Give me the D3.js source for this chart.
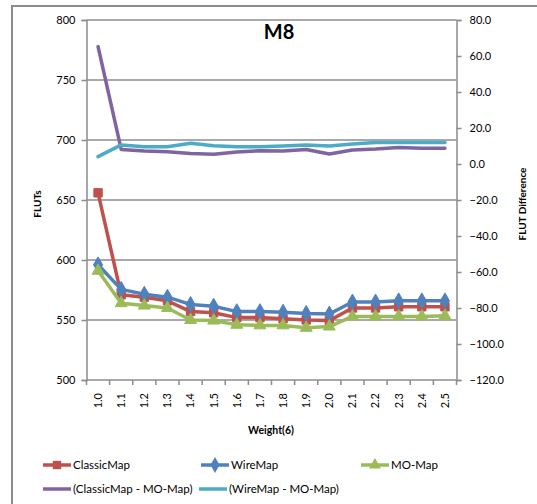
<!DOCTYPE html>
<html>
<head>
<meta charset="utf-8">
<script src="https://cdn.jsdelivr.net/npm/d3@7"></script>
<style>
  html, body { margin: 0; padding: 0; background: #fff; }
  svg { display: block; }
  text { font-family: Lato, "Open Sans", "Liberation Sans", sans-serif; fill: #000; }
</style>
</head>
<body>
<svg id="chart" width="537" height="504"></svg>
<script>
// Weight(6) categories
const weights = ["1.0","1.1","1.2","1.3","1.4","1.5","1.6","1.7","1.8","1.9","2.0","2.1","2.2","2.3","2.4","2.5"];

// FLUT counts (primary axis)
const classicMap = [656, 571, 569, 566, 557, 556, 552, 552, 551, 550, 549.5, 560, 560, 561, 561, 561];
const wireMap    = [596, 575.5, 571.5, 569, 563, 561.5, 557, 557, 556.5, 555.5, 555, 565, 565, 566, 566, 566];
const moMap      = [591, 564, 562, 560, 550, 549.5, 546, 545.5, 545.5, 543.5, 544.5, 553, 553, 553, 553, 553.5];

// FLUT differences (secondary axis)
const classicMinusMo = [65.2, 8.1, 7.2, 6.8, 5.9, 5.4, 6.7, 7.4, 7.2, 8.1, 5.6, 7.8, 8.3, 9.1, 8.7, 8.7];
const wireMinusMo    = [4.1, 10.6, 9.6, 9.6, 11.5, 10.2, 9.6, 9.6, 10.0, 10.6, 10.0, 11.1, 11.9, 11.9, 11.9, 11.9];

const leftTicks  = [500, 550, 600, 650, 700, 750, 800];
const rightTicks = [-120, -100, -80, -60, -40, -20, 0, 20, 40, 60, 80];

const svg = d3.select("#chart");
const plot = { left: 86.5, right: 456.5, top: 20, bottom: 380 };
const gridColor = "#8c8c8c";

const x = d3.scaleBand().domain(weights).range([plot.left, plot.right]);
const yL = d3.scaleLinear().domain([500, 800]).range([plot.bottom, plot.top]);
const yR = d3.scaleLinear().domain([-120, 80]).range([plot.bottom, plot.top]);
const cx = d => x(d) + x.bandwidth() / 2;

// outer chart frame
svg.append("rect")
  .attr("x", 12).attr("y", 6).attr("width", 540).attr("height", 520)
  .attr("fill", "none").attr("stroke", gridColor).attr("stroke-width", 2);

// horizontal gridlines
svg.append("g").selectAll("line").data(leftTicks.filter(t => t > 500)).join("line")
  .attr("x1", plot.left).attr("x2", plot.right)
  .attr("y1", d => yL(d)).attr("y2", d => yL(d))
  .attr("stroke", gridColor).attr("stroke-width", 1.5);

// left axis
const gL = svg.append("g").attr("transform", `translate(${plot.left},0)`)
  .call(d3.axisLeft(yL).tickValues(leftTicks).tickSize(5).tickPadding(6).tickFormat(d3.format("d")));
gL.select(".domain").attr("stroke", gridColor).attr("stroke-width", 1.5);
gL.selectAll(".tick line").attr("stroke", gridColor).attr("stroke-width", 1.5);
gL.selectAll(".tick text").style("font-size", "11px").style("font-family", "Lato, sans-serif");

// right axis
const gR = svg.append("g").attr("transform", `translate(${plot.right},0)`)
  .call(d3.axisRight(yR).tickValues(rightTicks).tickSize(5).tickPadding(8).tickFormat(d3.format(".1f")));
gR.select(".domain").attr("stroke", gridColor).attr("stroke-width", 1.5);
gR.selectAll(".tick line").attr("stroke", gridColor).attr("stroke-width", 1.5);
gR.selectAll(".tick text").style("font-size", "11px").style("font-family", "Lato, sans-serif");

// bottom axis
const gB = svg.append("g").attr("transform", `translate(0,${plot.bottom})`)
  .call(d3.axisBottom(x).tickSize(0).tickPadding(0));
gB.select(".domain").remove();
gB.selectAll(".tick text")
  .attr("transform", "translate(0,13) rotate(-90)")
  .attr("text-anchor", "end").attr("dy", "0.35em").attr("x", 0).attr("y", 0)
  .style("font-size", "11px").style("font-family", "Lato, sans-serif");
svg.append("line")
  .attr("x1", plot.left).attr("x2", plot.right)
  .attr("y1", plot.bottom).attr("y2", plot.bottom)
  .attr("stroke", gridColor).attr("stroke-width", 1.5);
svg.append("g").selectAll("line").data(d3.range(weights.length + 1)).join("line")
  .attr("x1", i => plot.left + i * x.bandwidth()).attr("x2", i => plot.left + i * x.bandwidth())
  .attr("y1", plot.bottom).attr("y2", plot.bottom + 5)
  .attr("stroke", gridColor).attr("stroke-width", 1.5);

// series
const series = [
  { name: "ClassicMap", values: classicMap, y: yL, color: "#C0504D", marker: "square" },
  { name: "WireMap", values: wireMap, y: yL, color: "#4F81BD", marker: "diamond" },
  { name: "MO-Map", values: moMap, y: yL, color: "#9BBB59", marker: "triangle" },
  { name: "(ClassicMap - MO-Map)", values: classicMinusMo, y: yR, color: "#8064A2", marker: null },
  { name: "(WireMap - MO-Map)", values: wireMinusMo, y: yR, color: "#4BACC6", marker: null }
];

const symbolFor = m => m === "square" ? d3.symbolSquare : m === "diamond" ? d3.symbolDiamond : d3.symbolTriangle;
const sizeFor = m => m === "square" ? 70 : m === "diamond" ? 72 : 62;

const lineLayer = svg.append("g");
series.forEach(s => {
  const line = d3.line().x((d, i) => cx(weights[i])).y(d => s.y(d));
  lineLayer.append("path").datum(s.values)
    .attr("d", line).attr("fill", "none")
    .attr("stroke", s.color).attr("stroke-width", 3.5)
    .attr("stroke-linejoin", "round").attr("stroke-linecap", "round");
  if (s.marker) {
    lineLayer.append("g").selectAll("path").data(s.values).join("path")
      .attr("transform", (d, i) => `translate(${cx(weights[i])},${s.y(d)})`)
      .attr("d", d3.symbol().type(symbolFor(s.marker)).size(sizeFor(s.marker)))
      .attr("fill", s.color).attr("stroke", s.color).attr("stroke-width", 1);
  }
});

// title
svg.append("text").attr("x", 279).attr("y", 39).attr("text-anchor", "middle")
  .style("font-size", "20px").style("font-weight", "bold").text("M8");

// axis titles
svg.append("text").attr("transform", "translate(41,204) rotate(-90)")
  .attr("text-anchor", "middle").style("font-size", "10px").style("font-weight", "bold").text("FLUTs");
svg.append("text").attr("transform", "translate(526,204) rotate(-90)")
  .attr("text-anchor", "middle").style("font-size", "10px").style("font-weight", "bold").text("FLUT Difference");
svg.append("text").attr("x", 271).attr("y", 434).attr("text-anchor", "middle")
  .style("font-size", "10.5px").style("font-weight", "bold").text("Weight(6)");

// legend
const legendPos = [
  { x: 43, y: 465 }, { x: 201, y: 465 }, { x: 361, y: 465 },
  { x: 43, y: 489 }, { x: 199, y: 489 }
];
const leg = svg.append("g");
series.forEach((s, i) => {
  const p = legendPos[i];
  const g = leg.append("g").attr("transform", `translate(${p.x},${p.y})`);
  g.append("line").attr("x1", 0).attr("x2", 28).attr("y1", 0).attr("y2", 0)
    .attr("stroke", s.color).attr("stroke-width", 3.5);
  if (s.marker) {
    g.append("path").attr("transform", "translate(14,0)")
      .attr("d", d3.symbol().type(symbolFor(s.marker)).size(sizeFor(s.marker)))
      .attr("fill", s.color);
  }
  g.append("text").attr("x", 30).attr("y", 0).attr("dy", "0.35em")
    .style("font-size", "11.5px").text(s.name);
});
</script>
</body>
</html>
